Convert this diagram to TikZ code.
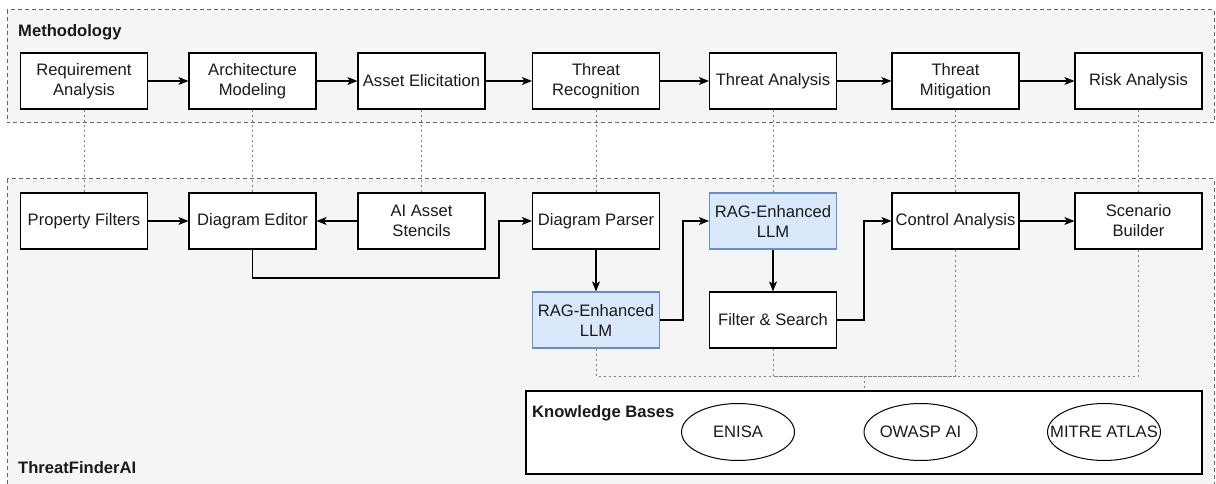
\documentclass[tikz,border=0pt]{standalone}
\usepackage{fontspec}
\setmainfont{Liberation Sans}
\usetikzlibrary{arrows.meta,shapes.geometric}
\definecolor{panelfill}{HTML}{F5F5F5}
\definecolor{panelline}{HTML}{666666}
\definecolor{llmfill}{HTML}{DAE8FC}
\definecolor{llmline}{HTML}{6C8EBF}
\definecolor{traceline}{HTML}{808080}
\definecolor{textcol}{HTML}{1A1A1A}
\pgfdeclarelayer{panels}
\pgfdeclarelayer{traces}
\pgfsetlayers{panels,traces,main}

\begin{document}
\begin{tikzpicture}[x=1pt,y=-1pt,
  font=\fontsize{16.6}{20}\selectfont, text=textcol,
  panel/.style={draw=panelline, fill=panelfill, line width=1pt, dash pattern=on 4pt off 3pt},
  stepbox/.style={draw=black, fill=white, line width=1.2pt, minimum width=127pt,
    minimum height=56pt, inner sep=0pt, align=center},
  llmbox/.style={stepbox, draw=llmline, fill=llmfill},
  flow/.style={line width=1.2pt, -{Stealth[length=10pt,width=8pt,inset=2.5pt]}},
  trace/.style={draw=traceline, line width=1pt, dash pattern=on 2pt off 3pt},
  kbitem/.style={ellipse, draw=black, fill=white, line width=1pt,
    minimum width=113pt, minimum height=57pt, inner sep=0pt},
  heading/.style={anchor=base west, inner sep=0pt,
    font=\fontsize{16.6}{20}\selectfont\bfseries}
]
\clip (0,0) rectangle (1216,484);

% containers
\begin{pgfonlayer}{panels}
\draw[panel] (7,10) rectangle (1214,123);
\draw[panel] (7,179) rectangle (1214,520);
\end{pgfonlayer}
\node[heading] (methtitle) at (18,37) {Methodology};
\node[heading] (tfatitle) at (18,473) {ThreatFinderAI};

% methodology steps
\node[stepbox] (ra)  at (84,81)    {Requirement\\Analysis};
\node[stepbox] (am)  at (252.5,81) {Architecture\\Modeling};
\node[stepbox] (ae)  at (421.5,81) {Asset Elicitation};
\node[stepbox] (tr)  at (596,81)   {Threat\\Recognition};
\node[stepbox] (ta)  at (773,81)   {Threat Analysis};
\node[stepbox] (tm)  at (955.5,81) {Threat\\Mitigation};
\node[stepbox] (rk)  at (1138.5,81){Risk Analysis};

% tool components
\node[stepbox] (pf)  at (84,221)    {Property Filters};
\node[stepbox] (de)  at (252.5,221) {Diagram Editor};
\node[stepbox] (as)  at (421.5,221) {AI Asset\\Stencils};
\node[stepbox] (dp)  at (596,221)   {Diagram Parser};
\node[llmbox]  (llmb) at (773,221)  {RAG-Enhanced\\LLM};
\node[stepbox] (ca)  at (955.5,221) {Control Analysis};
\node[stepbox] (sb)  at (1138.5,221){Scenario\\Builder};
\node[llmbox]  (llma) at (596,320)  {RAG-Enhanced\\LLM};
\node[stepbox] (fs)  at (773,320)   {Filter \& Search};

% knowledge bases
\node[draw=black, fill=white, line width=1.2pt, minimum width=676pt,
  minimum height=83pt, inner sep=0pt] (kb) at (864,432.5) {};
\node[heading] (kbtitle) at (532,417) {Knowledge Bases};
\node[kbitem] (enisa) at (738,432)  {\makebox[0pt]{ENISA}};
\node[kbitem] (owasp) at (920.5,432){\makebox[0pt]{OWASP AI}};
\node[kbitem] (atlas) at (1104,432) {\makebox[0pt]{MITRE ATLAS}};

% routing points
\coordinate (c1) at (499,278);
\coordinate (c2) at (683,221);
\coordinate (c3) at (864,221);
\coordinate (kbjoin) at (864,376);

% traceability links, kept behind the boxes
\begin{pgfonlayer}{traces}
\draw[trace] (ra.south) -- (pf.north);
\draw[trace] (am.south) -- (de.north);
\draw[trace] (ae.south) -- (as.north);
\draw[trace] (tr.south) -- (dp.north);
\draw[trace] (ta.south) -- (llmb.north);
\draw[trace] (tm.south) -- (ca.north);
\draw[trace] (rk.south) -- (sb.north);
\draw[trace] (llma.south) |- (kbjoin);
\draw[trace] (fs.south) |- (kbjoin);
\draw[trace] (ca.south) |- (kbjoin);
\draw[trace] (sb.south) |- (kbjoin);
\draw[trace] (kbjoin) -- (kb.north);
\end{pgfonlayer}

% methodology flow
\draw[flow] (ra) -- (am);
\draw[flow] (am) -- (ae);
\draw[flow] (ae) -- (tr);
\draw[flow] (tr) -- (ta);
\draw[flow] (ta) -- (tm);
\draw[flow] (tm) -- (rk);

% tool flow
\draw[flow] (pf) -- (de);
\draw[flow] (as) -- (de);
\draw[flow] (de) |- (c1) |- (dp);
\draw[flow] (dp) -- (llma);
\draw[flow] (llma) -| (c2) -- (llmb);
\draw[flow] (llmb) -- (fs);
\draw[flow] (fs) -| (c3) -- (ca);
\draw[flow] (ca) -- (sb);
\end{tikzpicture}
\end{document}
